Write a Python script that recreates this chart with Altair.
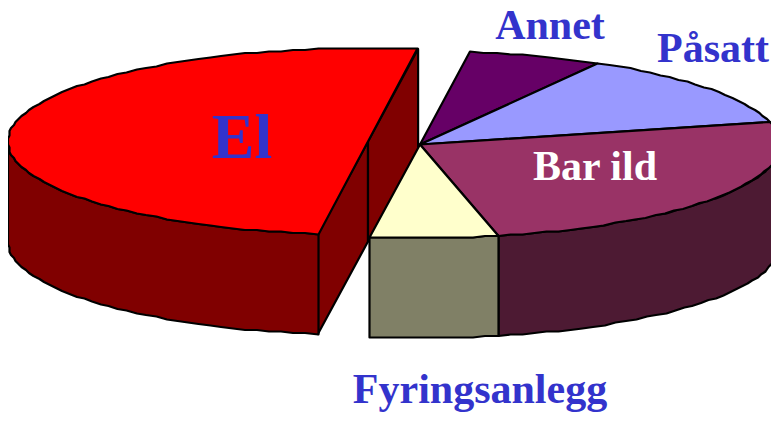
import numpy as np
import altair as alt

# --- chart values ---
categories = ["Annet", "Påsatt", "Bar ild", "Fyringsanlegg", "El"]
shares = [6, 13, 25.3, 5.7, 50]
top_colors = ["#660066", "#9999FF", "#993366", "#FFFFCC", "#FF0000"]
wall_colors = ["#330033", "#4D4D80", "#4D1A33", "#808066", "#800000"]

label_text = ["Annet", "Påsatt", "Bar ild", "Fyringsanlegg", "El"]
label_x = [542, 705, 587, 472, 234]
label_y = [31, 54, 172, 395, 150]
label_size = [42, 42, 42, 42, 64]
label_color = ["#3333CC", "#3333CC", "#FFFFFF", "#3333CC", "#3333CC"]

# --- pie geometry (plot-area pixels, y down) ---
START = 8.0
RX, RY, DEPTH = 360.0, 93.5, 100.0
CX, CY = 412.0, 136.5        # centre of the pie
CX_EL, CY_EL = 360.0, 133.5  # centre of the pulled-out "El" slice
GRID = 1.5                   # the source polygon is coarse

edges = START + np.concatenate([[0], np.cumsum(shares)]) * 3.6


def arc(cx, cy, t0, t1):
    n = max(2, int(abs(t1 - t0) / 2) + 1)
    ts = np.radians(np.linspace(t0, t1, n))
    xs = cx + RX * np.sin(ts)
    ys = cy - RY * np.cos(ts)
    return [[float(np.round(x / GRID) * GRID), float(np.round(y / GRID) * GRID)]
            for x, y in zip(xs, ys)]


def feature(ring, color):
    ring = ring + [ring[0]]
    return {
        "type": "Feature",
        "properties": {"fill": color},
        "geometry": {"type": "Polygon", "coordinates": [ring]},
    }


def lowered(points):
    return [[x, y + DEPTH] for x, y in points]


def wall(cx, cy, t0, t1, color):
    top = arc(cx, cy, t0, t1)
    return feature(top + lowered(top)[::-1], color)


def inner_wall(cx, cy, t, color):
    end = [float(cx + RX * np.sin(np.radians(t))), float(cy - RY * np.cos(np.radians(t)))]
    apex = [cx, cy]
    return feature([apex, end, [end[0], end[1] + DEPTH], [apex[0], apex[1] + DEPTH]], color)


def top(cx, cy, t0, t1, color):
    return feature([[cx, cy]] + arc(cx, cy, t0, t1), color)


t = edges
features = [
    inner_wall(CX_EL, CY_EL, t[4], wall_colors[4]),
    inner_wall(CX_EL, CY_EL, t[5], wall_colors[4]),
    wall(CX_EL, CY_EL, t[4], 270, wall_colors[4]),
    top(CX_EL, CY_EL, t[4], t[5], top_colors[4]),
    top(CX, CY, t[0], t[1], top_colors[0]),
    top(CX, CY, t[1], t[2], top_colors[1]),
    wall(CX, CY, 84, t[3], wall_colors[2]),
    top(CX, CY, t[2], t[3], top_colors[2]),
    wall(CX, CY, t[3], t[4], wall_colors[3]),
    top(CX, CY, t[3], t[4], top_colors[3]),
]

pie = (
    alt.Chart(alt.Data(values=features))
    .mark_geoshape(stroke="black", strokeWidth=2.2, strokeJoin="round")
    .encode(fill=alt.Color("properties.fill:N", scale=None, legend=None))
    .project(type="identity", scale=1, translate=[0, 0])
)

labels = alt.layer(*[
    alt.Chart(alt.Data(values=[{"label": s}]))
    .mark_text(font="Liberation Serif", fontWeight="bold", fontSize=fs, color=c,
               align="center", baseline="alphabetic")
    .encode(text="label:N", x=alt.value(x), y=alt.value(y))
    for s, x, y, fs, c in zip(label_text, label_x, label_y, label_size, label_color)
])

chart = (
    alt.layer(pie, labels)
    .properties(width=763, height=405, padding=0, autosize=alt.AutoSizeParams(type="none"))
    .configure_view(stroke=None)
)

chart.save("out.html", embed_options={"renderer": "svg", "actions": False})
